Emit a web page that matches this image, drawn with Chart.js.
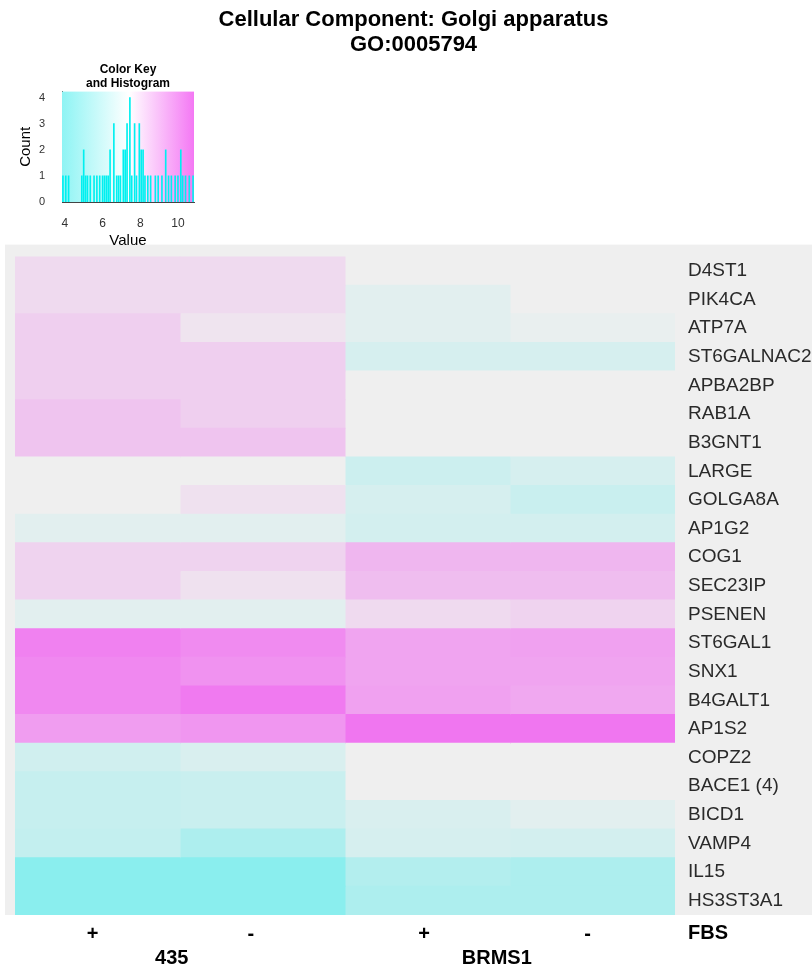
<!DOCTYPE html>
<html>
<head>
<meta charset="utf-8">
<script src="https://cdn.jsdelivr.net/npm/chart.js@4/dist/chart.umd.min.js"></script>
<style>
  html, body { margin: 0; padding: 0; background: #ffffff; }
  #wrap { position: relative; width: 812px; height: 968px; }
  #heat { position: absolute; left: 0; top: 0; }
  #hist { position: absolute; left: 0; top: 60px; }
</style>
</head>
<body>
<div id="wrap">
  <canvas id="heat" width="812" height="968"></canvas>
  <canvas id="hist" width="220" height="190"></canvas>
</div>
<script>
// ---- data ----
const titleLines = ['Cellular Component: Golgi apparatus', 'GO:0005794'];
const genes = ['D4ST1','PIK4CA','ATP7A','ST6GALNAC2','APBA2BP','RAB1A','B3GNT1','LARGE','GOLGA8A','AP1G2',
  'COG1','SEC23IP','PSENEN','ST6GAL1','SNX1','B4GALT1','AP1S2','COPZ2','BACE1 (4)','BICD1','VAMP4','IL15','HS3ST3A1'];
const fbsLabels = ['+', '-', '+', '-'];
const lineLabels = ['435', 'BRMS1'];
const vals435Plus    = [8.0, 8.0, 8.3, 8.3, 8.3, 8.6, 8.6, 7.4, 7.4, 7.0, 8.2, 8.2, 7.0, 10.5, 10.3, 10.3, 9.7, 6.4, 6.1, 6.1, 6.0, 4.2, 4.2];
const vals435Minus   = [8.0, 8.0, 7.7, 8.3, 8.3, 8.3, 8.6, 7.4, 7.8, 7.0, 8.2, 7.8, 7.0, 10.2, 10.0, 10.7, 9.9, 6.7, 6.2, 6.2, 5.3, 4.2, 4.2];
const valsBRMS1Plus  = [7.4, 7.0, 7.0, 6.6, 7.4, 7.4, 7.4, 6.3, 6.6, 6.5, 9.0, 8.8, 8.0, 9.5, 9.5, 9.6, 10.8, 7.4, 7.4, 6.7, 6.6, 5.5, 5.3];
const valsBRMS1Minus = [7.4, 7.4, 7.2, 6.6, 7.4, 7.4, 7.4, 6.6, 6.2, 6.5, 9.0, 8.8, 8.2, 9.6, 9.5, 9.4, 10.8, 7.4, 7.4, 7.0, 6.5, 5.3, 5.3];
const histBins   = [3.9, 4.05, 4.2, 4.9, 5.0, 5.1, 5.2, 5.35, 5.55, 5.7, 5.85, 6.0, 6.1, 6.2, 6.3, 6.4, 6.6, 6.75, 6.85, 6.95, 7.1, 7.2, 7.3, 7.45, 7.55, 7.7, 7.8, 7.95, 8.05, 8.15, 8.25, 8.4, 8.55, 8.8, 8.95, 9.15, 9.35, 9.5, 9.65, 9.85, 10.0, 10.15, 10.25, 10.4, 10.6, 10.8];
const histCounts = [1, 1, 1, 1, 2, 1, 1, 1, 1, 1, 1, 1, 1, 1, 1, 2, 3, 1, 1, 1, 2, 2, 3, 4, 1, 3, 1, 3, 2, 2, 1, 1, 1, 1, 1, 1, 2, 1, 1, 1, 1, 2, 1, 1, 1, 1];

// ---- colour scale ----
const LOW = [0x84, 0xee, 0xee], MID = [0xef, 0xef, 0xef], HIGH = [0xf0, 0x76, 0xf0];
const vLow = 4.0, vMid = 7.4, vHigh = 10.8;
function heatColor(v) {
  let a, b, t;
  if (v <= vMid) { a = MID; b = LOW; t = (vMid - v) / (vMid - vLow); }
  else { a = MID; b = HIGH; t = (v - vMid) / (vHigh - vMid); }
  t = Math.max(0, Math.min(1, t));
  const c = a.map((x, i) => Math.round(x + (b[i] - x) * t));
  return `rgb(${c[0]},${c[1]},${c[2]})`;
}

const FONT = '"Liberation Sans", Arial, sans-serif';
const columns = [vals435Plus, vals435Minus, valsBRMS1Plus, valsBRMS1Minus];
const datasets = columns.map((col, ci) => ({
  data: genes.map((g, r) => ({ y: g, x: [ci, ci + 1], v: col[r] })),
  backgroundColor: ctx => heatColor(ctx.raw.v),
  borderWidth: 0,
  grouped: false,
  barPercentage: 1,
  categoryPercentage: 1,
  inflateAmount: 0.5
}));

const panelPlugin = {
  id: 'panel',
  beforeDraw(chart) {
    const { ctx, chartArea: a } = chart;
    ctx.save();
    ctx.fillStyle = '#efefef';
    ctx.fillRect(a.left - 10, a.top - 12, chart.width - (a.left - 10), a.bottom - (a.top - 12));
    ctx.restore();
  },
  afterDraw(chart) {
    const { ctx, chartArea: a } = chart;
    const xs = chart.scales.x;
    ctx.save();
    ctx.fillStyle = '#000';
    ctx.font = 'bold 20px ' + FONT;
    ctx.textBaseline = 'middle';
    ctx.textAlign = 'left';
    ctx.fillText('FBS', a.right + 13, xs.top + 18);
    ctx.restore();
  }
};

new Chart(document.getElementById('heat'), {
  type: 'bar',
  data: { labels: genes, datasets },
  plugins: [panelPlugin],
  options: {
    responsive: false,
    animation: false,
    indexAxis: 'y',
    layout: { padding: { left: 15, top: 0, bottom: 0, right: 0 } },
    plugins: {
      legend: { display: false },
      tooltip: { enabled: false },
      title: {
        display: true,
        text: titleLines,
        color: '#000',
        font: { family: FONT, size: 22, weight: 'bold', lineHeight: 1.15 },
        padding: { top: 7, bottom: 199 }
      }
    },
    scales: {
      y: {
        type: 'category',
        position: 'right',
        grid: { display: false, drawTicks: false },
        border: { display: false },
        ticks: { color: '#2a2a2a', font: { family: FONT, size: 19 }, padding: 13, autoSkip: false },
        afterFit: s => { s.width = 137; }
      },
      x: {
        type: 'linear', min: 0, max: 4, position: 'bottom', weight: 1,
        grid: { display: false, drawTicks: false },
        border: { display: false },
        afterBuildTicks: s => { s.ticks = [0.47, 1.43, 2.48, 3.47].map(v => ({ value: v })); },
        ticks: { color: '#000', font: { family: FONT, size: 20, weight: 'bold' }, padding: 7, maxRotation: 0, autoSkip: false,
                 callback: (v, i) => fbsLabels[i] },
        afterFit: s => { s.height = 30; }
      },
      x2: {
        type: 'linear', min: 0, max: 4, position: 'bottom', weight: 2,
        grid: { display: false, drawTicks: false },
        border: { display: false },
        afterBuildTicks: s => { s.ticks = [0.95, 2.92].map(v => ({ value: v })); },
        ticks: { color: '#000', font: { family: FONT, size: 20, weight: 'bold' }, padding: 1, maxRotation: 0, autoSkip: false,
                 callback: (v, i) => lineLabels[i] },
        afterFit: s => { s.height = 23; }
      }
    }
  }
});

// ---- colour key + histogram ----
const keyPlugin = {
  id: 'keybg',
  beforeDatasetsDraw(chart) {
    const { ctx, chartArea: a } = chart;
    const xs = chart.scales.x;
    const g = ctx.createLinearGradient(a.left, 0, a.right, 0);
    const pos = v => Math.max(0, Math.min(1, (xs.getPixelForValue(v) - a.left) / (a.right - a.left)));
    g.addColorStop(0, '#8ef4f4');
    g.addColorStop(pos(vMid), '#ffffff');
    g.addColorStop(1, '#f478f4');
    ctx.save();
    ctx.fillStyle = g;
    ctx.fillRect(a.left, a.top, a.right - a.left, a.bottom - a.top);
    ctx.restore();
  }
};

new Chart(document.getElementById('hist'), {
  type: 'bar',
  data: { datasets: [{ data: histBins.map((b, i) => ({ x: b, y: histCounts[i] })), backgroundColor: '#00f0f0', barThickness: 1 }] },
  plugins: [keyPlugin],
  options: {
    responsive: false,
    animation: false,
    layout: { padding: { left: 17, right: 26, top: 0, bottom: 0 } },
    plugins: {
      legend: { display: false },
      tooltip: { enabled: false },
      title: {
        display: true, fullSize: false,
        text: ['Color Key', 'and Histogram'],
        color: '#000',
        font: { family: FONT, size: 12, weight: 'bold', lineHeight: 1.15 },
        padding: { top: 3, bottom: 1 }
      }
    },
    scales: {
      x: {
        type: 'linear', min: 3.85, max: 10.85, offset: false,
        grid: { display: false, drawTicks: true, tickLength: 5, offset: false },
        border: { display: true, color: '#444' },
        afterBuildTicks: s => { s.ticks = [4, 6, 8, 10].map(v => ({ value: v })); },
        ticks: { color: '#333', font: { family: FONT, size: 12 }, padding: 9, maxRotation: 0 },
        title: { display: true, text: 'Value', color: '#000', font: { family: FONT, size: 15 }, padding: { top: -3, bottom: 0 } },
        afterFit: s => { s.height = 48; }
      },
      y: {
        type: 'linear', min: 0, max: 4.23,
        grid: { display: false, drawTicks: true, tickLength: 5 },
        border: { display: true, color: '#444' },
        afterBuildTicks: s => { s.ticks = [0, 1, 2, 3, 4].map(v => ({ value: v })); },
        ticks: { color: '#333', font: { family: FONT, size: 11 }, padding: 12 },
        title: { display: true, text: 'Count', color: '#000', font: { family: FONT, size: 15 }, padding: { top: 0, bottom: 0 } },
        afterFit: s => { s.width = 45; }
      }
    }
  }
});
</script>
</body>
</html>
